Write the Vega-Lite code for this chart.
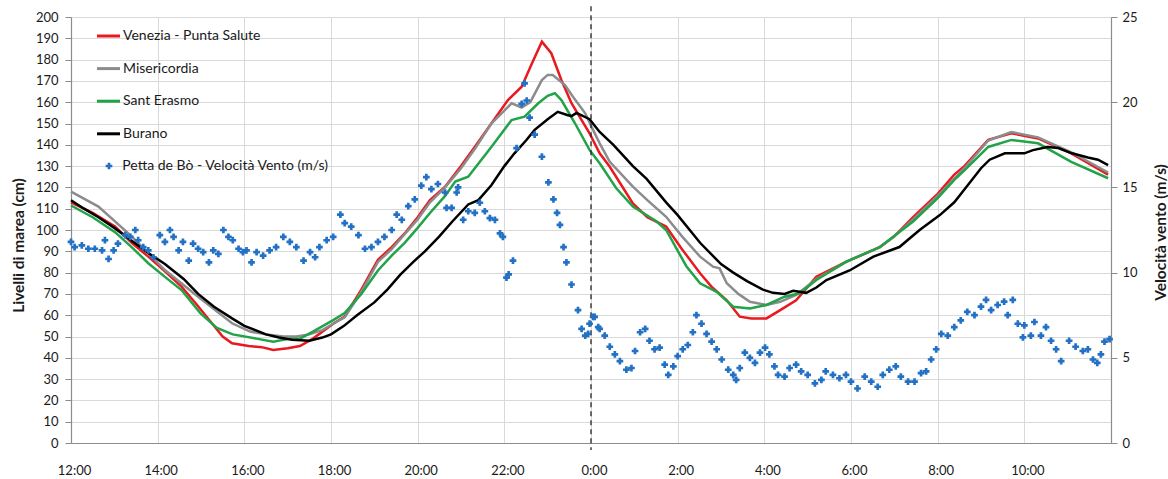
{
"$schema": "https://vega.github.io/schema/vega-lite/v6.json",
"width": 1040, "height": 426,
"autosize": "none",
"padding": {"left": 71, "top": 17, "right": 57, "bottom": 36},
"background": "white",
"config": {"font": "Lato", "view": {"stroke": null}},
"datasets": {
"red": [
{"t":"2019-11-12T12:00","v":113},{"t":"2019-11-12T12:30","v":108},{"t":"2019-11-12T13:01","v":101.6},{"t":"2019-11-12T13:24","v":94},{"t":"2019-11-12T13:47","v":87.5},{"t":"2019-11-12T14:12","v":80},{"t":"2019-11-12T14:33","v":73.4},{"t":"2019-11-12T14:54","v":65},{"t":"2019-11-12T15:19","v":54.6},{"t":"2019-11-12T15:30","v":50},{"t":"2019-11-12T15:43","v":46.8},{"t":"2019-11-12T16:06","v":45.5},{"t":"2019-11-12T16:24","v":45},{"t":"2019-11-12T16:40","v":43.7},{"t":"2019-11-12T17:00","v":44.5},{"t":"2019-11-12T17:17","v":45.5},{"t":"2019-11-12T17:35","v":49},{"t":"2019-11-12T18:03","v":56},{"t":"2019-11-12T18:19","v":59.4},{"t":"2019-11-12T18:42","v":72},{"t":"2019-11-12T19:05","v":86},{"t":"2019-11-12T19:24","v":92},{"t":"2019-11-12T19:42","v":98.4},{"t":"2019-11-12T20:00","v":106},{"t":"2019-11-12T20:17","v":114},{"t":"2019-11-12T20:38","v":120.3},{"t":"2019-11-12T21:00","v":130},{"t":"2019-11-12T21:19","v":139},{"t":"2019-11-12T21:42","v":150},{"t":"2019-11-12T22:05","v":161},{"t":"2019-11-12T22:24","v":167.3},{"t":"2019-11-12T22:38","v":178},{"t":"2019-11-12T22:52","v":188.4},{"t":"2019-11-12T23:05","v":183},{"t":"2019-11-12T23:19","v":170.4},{"t":"2019-11-12T23:33","v":159.5},{"t":"2019-11-12T23:58","v":145.4},
{"t":"2019-11-13T00:12","v":136},{"t":"2019-11-13T00:26","v":129.7},{"t":"2019-11-13T00:58","v":112.5},{"t":"2019-11-13T01:18","v":106},{"t":"2019-11-13T01:44","v":101.6},{"t":"2019-11-13T02:06","v":91},{"t":"2019-11-13T02:31","v":79.7},{"t":"2019-11-13T02:48","v":73},{"t":"2019-11-13T03:08","v":67},{"t":"2019-11-13T03:26","v":59.3},{"t":"2019-11-13T03:42","v":58.5},{"t":"2019-11-13T04:03","v":58.5},{"t":"2019-11-13T04:22","v":62.4},{"t":"2019-11-13T04:44","v":67},{"t":"2019-11-13T05:12","v":78},{"t":"2019-11-13T05:53","v":85},{"t":"2019-11-13T06:40","v":92},{"t":"2019-11-13T07:00","v":97},{"t":"2019-11-13T07:26","v":106},{"t":"2019-11-13T08:00","v":117},{"t":"2019-11-13T08:23","v":126},{"t":"2019-11-13T08:37","v":130},{"t":"2019-11-13T09:10","v":142.3},{"t":"2019-11-13T09:42","v":145.4},{"t":"2019-11-13T10:19","v":143},{"t":"2019-11-13T11:05","v":136},{"t":"2019-11-13T11:56","v":126}
],
"gray": [
{"t":"2019-11-12T12:00","v":118},{"t":"2019-11-12T12:38","v":111},{"t":"2019-11-12T13:24","v":97},{"t":"2019-11-12T14:10","v":81.2},{"t":"2019-11-12T14:56","v":68.7},{"t":"2019-11-12T15:43","v":56.2},{"t":"2019-11-12T16:08","v":52.3},{"t":"2019-11-12T16:30","v":51},{"t":"2019-11-12T16:54","v":50},{"t":"2019-11-12T17:12","v":50},{"t":"2019-11-12T17:30","v":51},{"t":"2019-11-12T17:48","v":53},{"t":"2019-11-12T18:03","v":56},{"t":"2019-11-12T18:19","v":59},{"t":"2019-11-12T18:42","v":71},{"t":"2019-11-12T19:05","v":85},{"t":"2019-11-12T19:24","v":91},{"t":"2019-11-12T19:42","v":98},{"t":"2019-11-12T20:00","v":105},{"t":"2019-11-12T20:17","v":113},{"t":"2019-11-12T20:38","v":120},{"t":"2019-11-12T21:00","v":129},{"t":"2019-11-12T21:19","v":138},{"t":"2019-11-12T21:42","v":150},{"t":"2019-11-12T22:00","v":156},{"t":"2019-11-12T22:10","v":159.5},{"t":"2019-11-12T22:24","v":157.5},{"t":"2019-11-12T22:36","v":160},{"t":"2019-11-12T22:52","v":170.4},{"t":"2019-11-12T23:00","v":172.8},{"t":"2019-11-12T23:07","v":172.8},{"t":"2019-11-12T23:24","v":168},{"t":"2019-11-12T23:35","v":162.6},{"t":"2019-11-12T23:52","v":154.8},
{"t":"2019-11-13T00:00","v":149},{"t":"2019-11-13T00:12","v":140.7},{"t":"2019-11-13T00:26","v":132},{"t":"2019-11-13T00:58","v":120.4},{"t":"2019-11-13T01:18","v":114},{"t":"2019-11-13T01:44","v":106.2},{"t":"2019-11-13T02:06","v":97},{"t":"2019-11-13T02:31","v":87.5},{"t":"2019-11-13T02:49","v":82.8},{"t":"2019-11-13T02:58","v":82},{"t":"2019-11-13T03:08","v":75},{"t":"2019-11-13T03:24","v":70},{"t":"2019-11-13T03:40","v":66.3},{"t":"2019-11-13T04:03","v":64.8},{"t":"2019-11-13T04:22","v":66.3},{"t":"2019-11-13T04:44","v":69.5},{"t":"2019-11-13T05:12","v":77},{"t":"2019-11-13T05:53","v":85},{"t":"2019-11-13T06:40","v":92},{"t":"2019-11-13T07:00","v":97},{"t":"2019-11-13T07:26","v":105},{"t":"2019-11-13T08:00","v":116},{"t":"2019-11-13T08:23","v":124},{"t":"2019-11-13T08:37","v":129},{"t":"2019-11-13T09:10","v":142},{"t":"2019-11-13T09:42","v":146},{"t":"2019-11-13T10:19","v":143.5},{"t":"2019-11-13T11:05","v":136.5},{"t":"2019-11-13T11:56","v":127}
],
"green": [
{"t":"2019-11-12T12:00","v":111.5},{"t":"2019-11-12T12:30","v":106},{"t":"2019-11-12T13:01","v":99},{"t":"2019-11-12T13:24","v":92},{"t":"2019-11-12T13:47","v":84.4},{"t":"2019-11-12T14:10","v":78},{"t":"2019-11-12T14:33","v":71.8},{"t":"2019-11-12T14:59","v":61},{"t":"2019-11-12T15:22","v":54},{"t":"2019-11-12T15:44","v":51},{"t":"2019-11-12T16:17","v":49},{"t":"2019-11-12T16:40","v":47.6},{"t":"2019-11-12T17:03","v":49},{"t":"2019-11-12T17:17","v":49},{"t":"2019-11-12T17:35","v":52.3},{"t":"2019-11-12T18:03","v":57.7},{"t":"2019-11-12T18:19","v":61},{"t":"2019-11-12T18:42","v":70},{"t":"2019-11-12T19:05","v":81},{"t":"2019-11-12T19:24","v":88},{"t":"2019-11-12T19:42","v":94},{"t":"2019-11-12T20:00","v":101},{"t":"2019-11-12T20:17","v":108},{"t":"2019-11-12T20:38","v":116},{"t":"2019-11-12T20:52","v":122.7},{"t":"2019-11-12T21:10","v":125},{"t":"2019-11-12T21:42","v":139},{"t":"2019-11-12T22:10","v":151.6},{"t":"2019-11-12T22:28","v":153.2},{"t":"2019-11-12T22:47","v":159.5},{"t":"2019-11-12T23:00","v":163},{"t":"2019-11-12T23:10","v":164.2},{"t":"2019-11-12T23:19","v":161},{"t":"2019-11-12T23:38","v":150},{"t":"2019-11-12T23:58","v":137.6},
{"t":"2019-11-13T00:12","v":131.3},{"t":"2019-11-13T00:35","v":119.6},{"t":"2019-11-13T00:58","v":111},{"t":"2019-11-13T01:31","v":104},{"t":"2019-11-13T01:44","v":100},{"t":"2019-11-13T02:12","v":83},{"t":"2019-11-13T02:31","v":75},{"t":"2019-11-13T02:54","v":71},{"t":"2019-11-13T03:17","v":64},{"t":"2019-11-13T03:40","v":63.2},{"t":"2019-11-13T04:03","v":64.8},{"t":"2019-11-13T04:28","v":68.7},{"t":"2019-11-13T04:49","v":70.3},{"t":"2019-11-13T05:12","v":76.5},{"t":"2019-11-13T05:53","v":85},{"t":"2019-11-13T06:40","v":92},{"t":"2019-11-13T07:26","v":104},{"t":"2019-11-13T08:00","v":115},{"t":"2019-11-13T08:23","v":123.5},{"t":"2019-11-13T08:37","v":128},{"t":"2019-11-13T09:10","v":139},{"t":"2019-11-13T09:42","v":142.3},{"t":"2019-11-13T10:19","v":140.7},{"t":"2019-11-13T11:05","v":132},{"t":"2019-11-13T11:56","v":124.3}
],
"black": [
{"t":"2019-11-12T12:00","v":114},{"t":"2019-11-12T12:18","v":110},{"t":"2019-11-12T12:38","v":106},{"t":"2019-11-12T13:00","v":101},{"t":"2019-11-12T13:24","v":95},{"t":"2019-11-12T13:48","v":89},{"t":"2019-11-12T14:10","v":84},{"t":"2019-11-12T14:36","v":77},{"t":"2019-11-12T14:56","v":70},{"t":"2019-11-12T15:18","v":64},{"t":"2019-11-12T15:43","v":58.5},{"t":"2019-11-12T16:00","v":55},{"t":"2019-11-12T16:30","v":51},{"t":"2019-11-12T16:48","v":49.5},{"t":"2019-11-12T17:06","v":48.5},{"t":"2019-11-12T17:30","v":48},{"t":"2019-11-12T17:48","v":49.5},{"t":"2019-11-12T18:00","v":51},{"t":"2019-11-12T18:18","v":55},{"t":"2019-11-12T18:36","v":60},{"t":"2019-11-12T19:00","v":66},{"t":"2019-11-12T19:18","v":72},{"t":"2019-11-12T19:36","v":79},{"t":"2019-11-12T19:54","v":85},{"t":"2019-11-12T20:10","v":90},{"t":"2019-11-12T20:30","v":97},{"t":"2019-11-12T20:48","v":104},{"t":"2019-11-12T21:10","v":112},{"t":"2019-11-12T21:24","v":114},{"t":"2019-11-12T21:42","v":121},{"t":"2019-11-12T22:00","v":130},{"t":"2019-11-12T22:14","v":136},{"t":"2019-11-12T22:30","v":142},{"t":"2019-11-12T22:42","v":147},{"t":"2019-11-12T23:00","v":152},{"t":"2019-11-12T23:14","v":155.5},{"t":"2019-11-12T23:27","v":154},{"t":"2019-11-12T23:33","v":153.5},{"t":"2019-11-12T23:40","v":155},{"t":"2019-11-12T23:58","v":152},
{"t":"2019-11-13T00:12","v":146},{"t":"2019-11-13T00:31","v":140},{"t":"2019-11-13T00:58","v":130},{"t":"2019-11-13T01:17","v":124},{"t":"2019-11-13T01:44","v":113},{"t":"2019-11-13T02:00","v":107},{"t":"2019-11-13T02:31","v":94},{"t":"2019-11-13T03:00","v":84},{"t":"2019-11-13T03:17","v":80},{"t":"2019-11-13T03:36","v":76},{"t":"2019-11-13T03:58","v":72},{"t":"2019-11-13T04:12","v":70.5},{"t":"2019-11-13T04:28","v":70},{"t":"2019-11-13T04:40","v":71.5},{"t":"2019-11-13T04:58","v":70.5},{"t":"2019-11-13T05:12","v":73},{"t":"2019-11-13T05:26","v":76.5},{"t":"2019-11-13T05:58","v":81},{"t":"2019-11-13T06:31","v":87.5},{"t":"2019-11-13T07:07","v":92},{"t":"2019-11-13T07:35","v":100},{"t":"2019-11-13T08:03","v":107},{"t":"2019-11-13T08:23","v":113},{"t":"2019-11-13T08:37","v":119},{"t":"2019-11-13T09:00","v":129},{"t":"2019-11-13T09:12","v":133},{"t":"2019-11-13T09:33","v":136},{"t":"2019-11-13T10:00","v":136},{"t":"2019-11-13T10:12","v":137.5},{"t":"2019-11-13T10:32","v":139},{"t":"2019-11-13T10:47","v":138.5},{"t":"2019-11-13T11:06","v":136},{"t":"2019-11-13T11:28","v":134},{"t":"2019-11-13T11:42","v":133},{"t":"2019-11-13T11:56","v":130.5}
],
"wind": [
{"t":"2019-11-12T12:00","w":11.8},{"t":"2019-11-12T12:05","w":11.5},{"t":"2019-11-12T12:15","w":11.6},{"t":"2019-11-12T12:24","w":11.4},{"t":"2019-11-12T12:33","w":11.4},{"t":"2019-11-12T12:43","w":11.3},{"t":"2019-11-12T12:47","w":11.9},{"t":"2019-11-12T12:52","w":10.8},{"t":"2019-11-12T12:59","w":11.3},{"t":"2019-11-12T13:05","w":11.7},{"t":"2019-11-12T13:15","w":12.2},{"t":"2019-11-12T13:22","w":12.1},{"t":"2019-11-12T13:29","w":12.5},{"t":"2019-11-12T13:33","w":11.9},{"t":"2019-11-12T13:40","w":11.5},{"t":"2019-11-12T13:47","w":11.3},{"t":"2019-11-12T13:54","w":10.9},{"t":"2019-11-12T14:03","w":12.2},{"t":"2019-11-12T14:10","w":11.8},{"t":"2019-11-12T14:17","w":12.5},{"t":"2019-11-12T14:22","w":12.1},{"t":"2019-11-12T14:29","w":11.3},{"t":"2019-11-12T14:35","w":11.8},{"t":"2019-11-12T14:43","w":10.7},{"t":"2019-11-12T14:49","w":11.7},{"t":"2019-11-12T14:56","w":11.4},{"t":"2019-11-12T15:03","w":11.2},{"t":"2019-11-12T15:11","w":10.6},{"t":"2019-11-12T15:17","w":11.3},{"t":"2019-11-12T15:24","w":11.1},{"t":"2019-11-12T15:31","w":12.5},{"t":"2019-11-12T15:38","w":12.1},{"t":"2019-11-12T15:44","w":11.9},{"t":"2019-11-12T15:52","w":11.4},{"t":"2019-11-12T15:58","w":11.2},{"t":"2019-11-12T16:03","w":11.3},{"t":"2019-11-12T16:10","w":10.6},{"t":"2019-11-12T16:17","w":11.2},{"t":"2019-11-12T16:26","w":11.0},{"t":"2019-11-12T16:35","w":11.3},{"t":"2019-11-12T16:44","w":11.5},{"t":"2019-11-12T16:54","w":12.1},{"t":"2019-11-12T17:03","w":11.8},{"t":"2019-11-12T17:12","w":11.5},{"t":"2019-11-12T17:22","w":10.7},{"t":"2019-11-12T17:31","w":11.2},{"t":"2019-11-12T17:38","w":10.9},{"t":"2019-11-12T17:44","w":11.5},{"t":"2019-11-12T17:54","w":11.9},{"t":"2019-11-12T18:03","w":12.1},{"t":"2019-11-12T18:13","w":13.4},{"t":"2019-11-12T18:19","w":12.9},{"t":"2019-11-12T18:28","w":12.7},{"t":"2019-11-12T18:38","w":12.2},{"t":"2019-11-12T18:47","w":11.4},{"t":"2019-11-12T18:56","w":11.5},{"t":"2019-11-12T19:05","w":11.8},{"t":"2019-11-12T19:14","w":12.1},{"t":"2019-11-12T19:24","w":12.5},{"t":"2019-11-12T19:31","w":13.4},{"t":"2019-11-12T19:38","w":13.1},{"t":"2019-11-12T19:47","w":13.9},{"t":"2019-11-12T19:56","w":14.3},{"t":"2019-11-12T20:05","w":15.1},{"t":"2019-11-12T20:12","w":15.6},{"t":"2019-11-12T20:19","w":14.9},{"t":"2019-11-12T20:28","w":15.2},{"t":"2019-11-12T20:38","w":14.7},{"t":"2019-11-12T20:40","w":13.8},{"t":"2019-11-12T20:47","w":13.8},{"t":"2019-11-12T20:54","w":14.7},{"t":"2019-11-12T20:56","w":15.0},{"t":"2019-11-12T21:03","w":13.1},{"t":"2019-11-12T21:10","w":13.6},{"t":"2019-11-12T21:19","w":13.5},{"t":"2019-11-12T21:26","w":14.1},{"t":"2019-11-12T21:33","w":13.6},{"t":"2019-11-12T21:40","w":13.2},{"t":"2019-11-12T21:47","w":13.1},{"t":"2019-11-12T21:54","w":12.3},{"t":"2019-11-12T21:58","w":12.1},{"t":"2019-11-12T22:03","w":9.7},{"t":"2019-11-12T22:06","w":9.9},{"t":"2019-11-12T22:12","w":10.7},{"t":"2019-11-12T22:17","w":17.3},{"t":"2019-11-12T22:24","w":19.9},{"t":"2019-11-12T22:28","w":21.1},{"t":"2019-11-12T22:31","w":20.1},{"t":"2019-11-12T22:35","w":19.1},{"t":"2019-11-12T22:42","w":18.1},{"t":"2019-11-12T22:52","w":16.8},{"t":"2019-11-12T23:01","w":15.3},{"t":"2019-11-12T23:08","w":14.3},{"t":"2019-11-12T23:13","w":13.5},{"t":"2019-11-12T23:17","w":12.8},{"t":"2019-11-12T23:22","w":11.5},{"t":"2019-11-12T23:26","w":10.6},{"t":"2019-11-12T23:33","w":9.3},{"t":"2019-11-12T23:42","w":7.8},{"t":"2019-11-12T23:47","w":6.7},{"t":"2019-11-12T23:52","w":6.3},{"t":"2019-11-12T23:56","w":6.4},{"t":"2019-11-12T23:58","w":7.0},
{"t":"2019-11-13T00:03","w":7.4},{"t":"2019-11-13T00:05","w":7.4},{"t":"2019-11-13T00:10","w":6.8},{"t":"2019-11-13T00:12","w":6.7},{"t":"2019-11-13T00:19","w":6.3},{"t":"2019-11-13T00:26","w":5.65},{"t":"2019-11-13T00:33","w":5.2},{"t":"2019-11-13T00:40","w":4.8},{"t":"2019-11-13T00:49","w":4.3},{"t":"2019-11-13T00:56","w":4.4},{"t":"2019-11-13T01:01","w":5.4},{"t":"2019-11-13T01:08","w":6.5},{"t":"2019-11-13T01:15","w":6.7},{"t":"2019-11-13T01:21","w":6.0},{"t":"2019-11-13T01:28","w":5.5},{"t":"2019-11-13T01:35","w":5.6},{"t":"2019-11-13T01:42","w":4.6},{"t":"2019-11-13T01:47","w":4.0},{"t":"2019-11-13T01:54","w":4.5},{"t":"2019-11-13T02:00","w":5.1},{"t":"2019-11-13T02:07","w":5.5},{"t":"2019-11-13T02:14","w":5.75},{"t":"2019-11-13T02:21","w":6.5},{"t":"2019-11-13T02:26","w":7.5},{"t":"2019-11-13T02:33","w":7.0},{"t":"2019-11-13T02:40","w":6.4},{"t":"2019-11-13T02:47","w":5.95},{"t":"2019-11-13T02:54","w":5.5},{"t":"2019-11-13T03:01","w":4.9},{"t":"2019-11-13T03:10","w":4.3},{"t":"2019-11-13T03:17","w":4.0},{"t":"2019-11-13T03:21","w":3.7},{"t":"2019-11-13T03:26","w":4.4},{"t":"2019-11-13T03:33","w":5.3},{"t":"2019-11-13T03:40","w":5.0},{"t":"2019-11-13T03:47","w":4.7},{"t":"2019-11-13T03:54","w":5.3},{"t":"2019-11-13T04:01","w":5.6},{"t":"2019-11-13T04:07","w":5.2},{"t":"2019-11-13T04:14","w":4.5},{"t":"2019-11-13T04:19","w":4.0},{"t":"2019-11-13T04:28","w":3.9},{"t":"2019-11-13T04:35","w":4.4},{"t":"2019-11-13T04:44","w":4.6},{"t":"2019-11-13T04:51","w":4.2},{"t":"2019-11-13T05:00","w":4.0},{"t":"2019-11-13T05:10","w":3.5},{"t":"2019-11-13T05:19","w":3.7},{"t":"2019-11-13T05:25","w":4.2},{"t":"2019-11-13T05:35","w":4.0},{"t":"2019-11-13T05:44","w":3.8},{"t":"2019-11-13T05:53","w":4.0},{"t":"2019-11-13T06:00","w":3.6},{"t":"2019-11-13T06:09","w":3.2},{"t":"2019-11-13T06:19","w":3.9},{"t":"2019-11-13T06:28","w":3.6},{"t":"2019-11-13T06:37","w":3.3},{"t":"2019-11-13T06:44","w":4.0},{"t":"2019-11-13T06:53","w":4.3},{"t":"2019-11-13T07:02","w":4.5},{"t":"2019-11-13T07:09","w":3.9},{"t":"2019-11-13T07:19","w":3.6},{"t":"2019-11-13T07:28","w":3.6},{"t":"2019-11-13T07:37","w":4.1},{"t":"2019-11-13T07:44","w":4.2},{"t":"2019-11-13T07:51","w":4.9},{"t":"2019-11-13T07:58","w":5.5},{"t":"2019-11-13T08:05","w":6.4},{"t":"2019-11-13T08:14","w":6.3},{"t":"2019-11-13T08:23","w":6.8},{"t":"2019-11-13T08:32","w":7.2},{"t":"2019-11-13T08:41","w":7.7},{"t":"2019-11-13T08:51","w":7.5},{"t":"2019-11-13T09:00","w":8.0},{"t":"2019-11-13T09:07","w":8.4},{"t":"2019-11-13T09:14","w":7.8},{"t":"2019-11-13T09:23","w":8.1},{"t":"2019-11-13T09:32","w":8.3},{"t":"2019-11-13T09:37","w":7.5},{"t":"2019-11-13T09:44","w":8.4},{"t":"2019-11-13T09:51","w":7.0},{"t":"2019-11-13T09:58","w":6.2},{"t":"2019-11-13T10:00","w":6.9},{"t":"2019-11-13T10:09","w":6.3},{"t":"2019-11-13T10:14","w":7.1},{"t":"2019-11-13T10:23","w":6.3},{"t":"2019-11-13T10:30","w":6.8},{"t":"2019-11-13T10:37","w":6.0},{"t":"2019-11-13T10:44","w":5.5},{"t":"2019-11-13T10:51","w":4.8},{"t":"2019-11-13T11:02","w":6.0},{"t":"2019-11-13T11:11","w":5.65},{"t":"2019-11-13T11:21","w":5.4},{"t":"2019-11-13T11:28","w":5.5},{"t":"2019-11-13T11:35","w":4.9},{"t":"2019-11-13T11:41","w":4.7},{"t":"2019-11-13T11:46","w":5.2},{"t":"2019-11-13T11:51","w":5.95},{"t":"2019-11-13T11:58","w":6.1}
]
},
"encoding": {
  "x": {"field": "t", "type": "temporal",
    "scale": {"domain": [{"year":2019,"month":11,"date":12,"hours":12},{"year":2019,"month":11,"date":13,"hours":12}]},
    "axis": {"title": null, "format": "%-H:%M", "labelFlush": false, "labelOverlap": false,
      "values": [{"year":2019,"month":11,"date":12,"hours":12},{"year":2019,"month":11,"date":12,"hours":14},{"year":2019,"month":11,"date":12,"hours":16},{"year":2019,"month":11,"date":12,"hours":18},{"year":2019,"month":11,"date":12,"hours":20},{"year":2019,"month":11,"date":12,"hours":22},{"year":2019,"month":11,"date":13,"hours":0},{"year":2019,"month":11,"date":13,"hours":2},{"year":2019,"month":11,"date":13,"hours":4},{"year":2019,"month":11,"date":13,"hours":6},{"year":2019,"month":11,"date":13,"hours":8},{"year":2019,"month":11,"date":13,"hours":10}],
      "grid": true, "gridColor": "#d9d9d9", "gridWidth": 1, "ticks": false, "labelPadding": 21, "labelOffset": 3,
      "domainColor": "#8c8c8c", "domainWidth": 1.2, "labelFont": "Lato", "labelFontSize": 13, "labelColor": "#1a1a1a"}}
},
"layer": [
  {
    "encoding": {
      "y": {"field": "v", "type": "quantitative",
        "scale": {"domain": [0, 200], "nice": false, "zero": true},
        "axis": {"orient": "left", "title": "Livelli di marea (cm)", "values": [0,10,20,30,40,50,60,70,80,90,100,110,120,130,140,150,160,170,180,190,200],
          "labelOverlap": false, "grid": true, "gridColor": "#d9d9d9", "gridWidth": 1, "tickColor": "#8c8c8c", "tickSize": 6, "labelPadding": 7,
          "domainColor": "#8c8c8c", "domainWidth": 1.2, "labelFont": "Lato", "labelFontSize": 13, "labelColor": "#1a1a1a",
          "titleFont": "Lato", "titleFontSize": 15.5, "titleFontWeight": "bold", "titleColor": "#1a1a1a",
          "titleAngle": -90, "titleAlign": "center", "titleBaseline": "middle", "titleX": -53, "titleY": 228}}
    },
    "layer": [
      {"data": {"name": "red"}, "mark": {"type": "line", "strokeWidth": 2.5},
       "encoding": {
        "color": {"datum": "Venezia - Punta Salute",
         "scale": {"domain": ["Venezia - Punta Salute", "Misericordia", "Sant Erasmo", "Burano"],
                   "range": ["#e8191f", "#8c8c8c", "#21a347", "#000000"]},
         "legend": {"orient": "none", "legendX": 24.5, "legendY": 6, "title": null, "padding": 0,
           "labelFont": "Lato", "labelFontSize": 14, "labelColor": "#1a1a1a", "labelLimit": 400, "labelOffset": 1.5,
           "rowPadding": 12.6, "symbolSize": 529, "symbolType": "stroke", "symbolStrokeWidth": 3}}}},
      {"data": {"name": "gray"}, "mark": {"type": "line", "strokeWidth": 2.5}, "encoding": {"color": {"datum": "Misericordia"}}},
      {"data": {"name": "green"}, "mark": {"type": "line", "strokeWidth": 2.5}, "encoding": {"color": {"datum": "Sant Erasmo"}}},
      {"data": {"name": "black"}, "mark": {"type": "line", "strokeWidth": 2.5}, "encoding": {"color": {"datum": "Burano"}}},
      {"data": {"values": [{"t": "2019-11-13T00:00", "v": 205, "v2": -3.3}]},
       "mark": {"type": "rule", "color": "#222222", "strokeWidth": 1.3, "strokeDash": [5, 4]},
       "encoding": {"y2": {"field": "v2"}}}
    ]
  },
  {
    "data": {"name": "wind"},
    "mark": {"type": "point", "shape": "cross", "filled": true, "size": 45, "opacity": 1, "color": "#2271c4"},
    "encoding": {
      "y": {"field": "w", "type": "quantitative",
        "scale": {"domain": [0, 25], "nice": false},
        "axis": {"orient": "right", "title": "Velocità vento (m/s)", "values": [0,5,10,15,20,25], "grid": false,
          "tickColor": "#8c8c8c", "tickSize": 6, "labelPadding": 5, "domainColor": "#8c8c8c", "domainWidth": 1.2,
          "labelFont": "Lato", "labelFontSize": 13, "labelColor": "#1a1a1a",
          "titleFont": "Lato", "titleFontSize": 15.5, "titleFontWeight": "bold", "titleColor": "#1a1a1a",
          "titleAngle": -90, "titleAlign": "center", "titleBaseline": "middle", "titleX": 49, "titleY": 215}},
      "shape": {"datum": "Petta de Bò - Velocità Vento (m/s)",
        "scale": {"domain": ["Petta de Bò - Velocità Vento (m/s)"], "range": ["cross"]},
        "legend": {"orient": "none", "legendX": 31, "legendY": 142, "title": null, "padding": 0,
          "labelFont": "Lato", "labelFontSize": 14, "labelColor": "#1a1a1a", "labelLimit": 400, "labelOffset": 6.3,
          "symbolSize": 45, "symbolFillColor": "#2271c4", "symbolStrokeColor": "#2271c4", "symbolStrokeWidth": 0}}
    }
  }
],
"resolve": {"scale": {"y": "independent"}}
}
